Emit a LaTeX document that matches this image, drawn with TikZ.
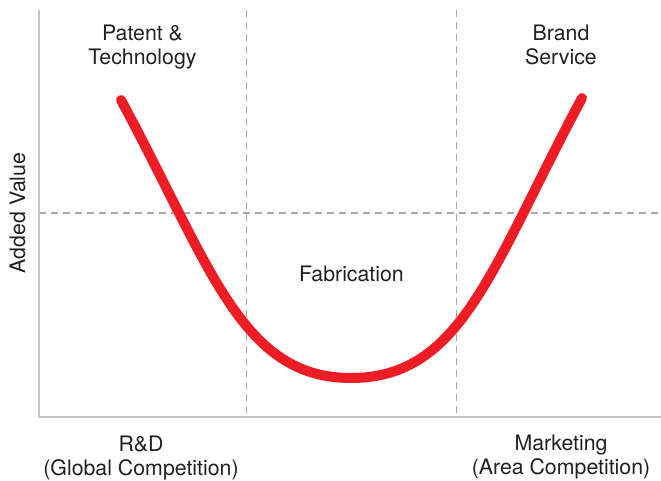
\documentclass[tikz,border=0pt]{standalone}
\usepackage{fontspec}
\setmainfont{TeX Gyre Heros}
\definecolor{curvered}{HTML}{EE1D25}
\definecolor{axisgray}{HTML}{C4C4C6}
\definecolor{dashgray}{HTML}{A9A9AC}
\definecolor{textgray}{HTML}{231F20}
\tikzset{
  axisline/.style={draw=axisgray, line width=2pt},
  guide/.style={draw=dashgray, line width=1.7pt, dash pattern=on 7pt off 5pt},
  smile/.style={draw=curvered, line width=10pt, line cap=round},
  lbl/.style={anchor=base, inner sep=0pt, text=textgray, font=\fontsize{21.3}{24}\selectfont},
}
\begin{document}
\begin{tikzpicture}[x=1pt,y=-1pt]
\useasboundingbox (0,0) rectangle (661,481);
% grid guides
\coordinate (vtop1) at (246.5,10);
\coordinate (vbot1) at (246.5,417);
\coordinate (vtop2) at (456.5,10);
\coordinate (vbot2) at (456.5,417);
\coordinate (hl) at (39,213);
\coordinate (hr) at (661,213);
\draw[guide] (vtop1) -- (vbot1);
\draw[guide] (vtop2) -- (vbot2);
\draw[guide] (hl) -- (hr);
% axes
\coordinate (ytop) at (39,10);
\coordinate (origin) at (39,417);
\coordinate (xend) at (661,417);
\draw[axisline] (ytop) -- (origin) -- (xend);
% smile curve
\coordinate (cstart) at (121,100);
\coordinate (cmin) at (351,378);
\coordinate (cend) at (582,98);
\draw[smile] (cstart) .. controls (211,267) and (241,378) .. (cmin)
  .. controls (462,378) and (491,268) .. (cend);
% labels
\node[lbl] (pat1) at (142.5,41) {Patent \&};
\node[lbl] (pat2) at (142.5,65) {Technology};
\node[lbl] (br1) at (561,41) {Brand};
\node[lbl] (br2) at (561,65) {Service};
\node[lbl] (fab) at (351.5,281.5) {Fabrication};
\node[lbl] (rd1) at (141,451) {R\&D};
\node[lbl] (rd2) at (141,475) {(Global Competition)};
\node[lbl] (mk1) at (561,450) {Marketing};
\node[lbl] (mk2) at (561,474) {(Area Competition)};
\node[lbl, rotate=90] (yl) at (25,213) {Added Value};
\end{tikzpicture}
\end{document}
